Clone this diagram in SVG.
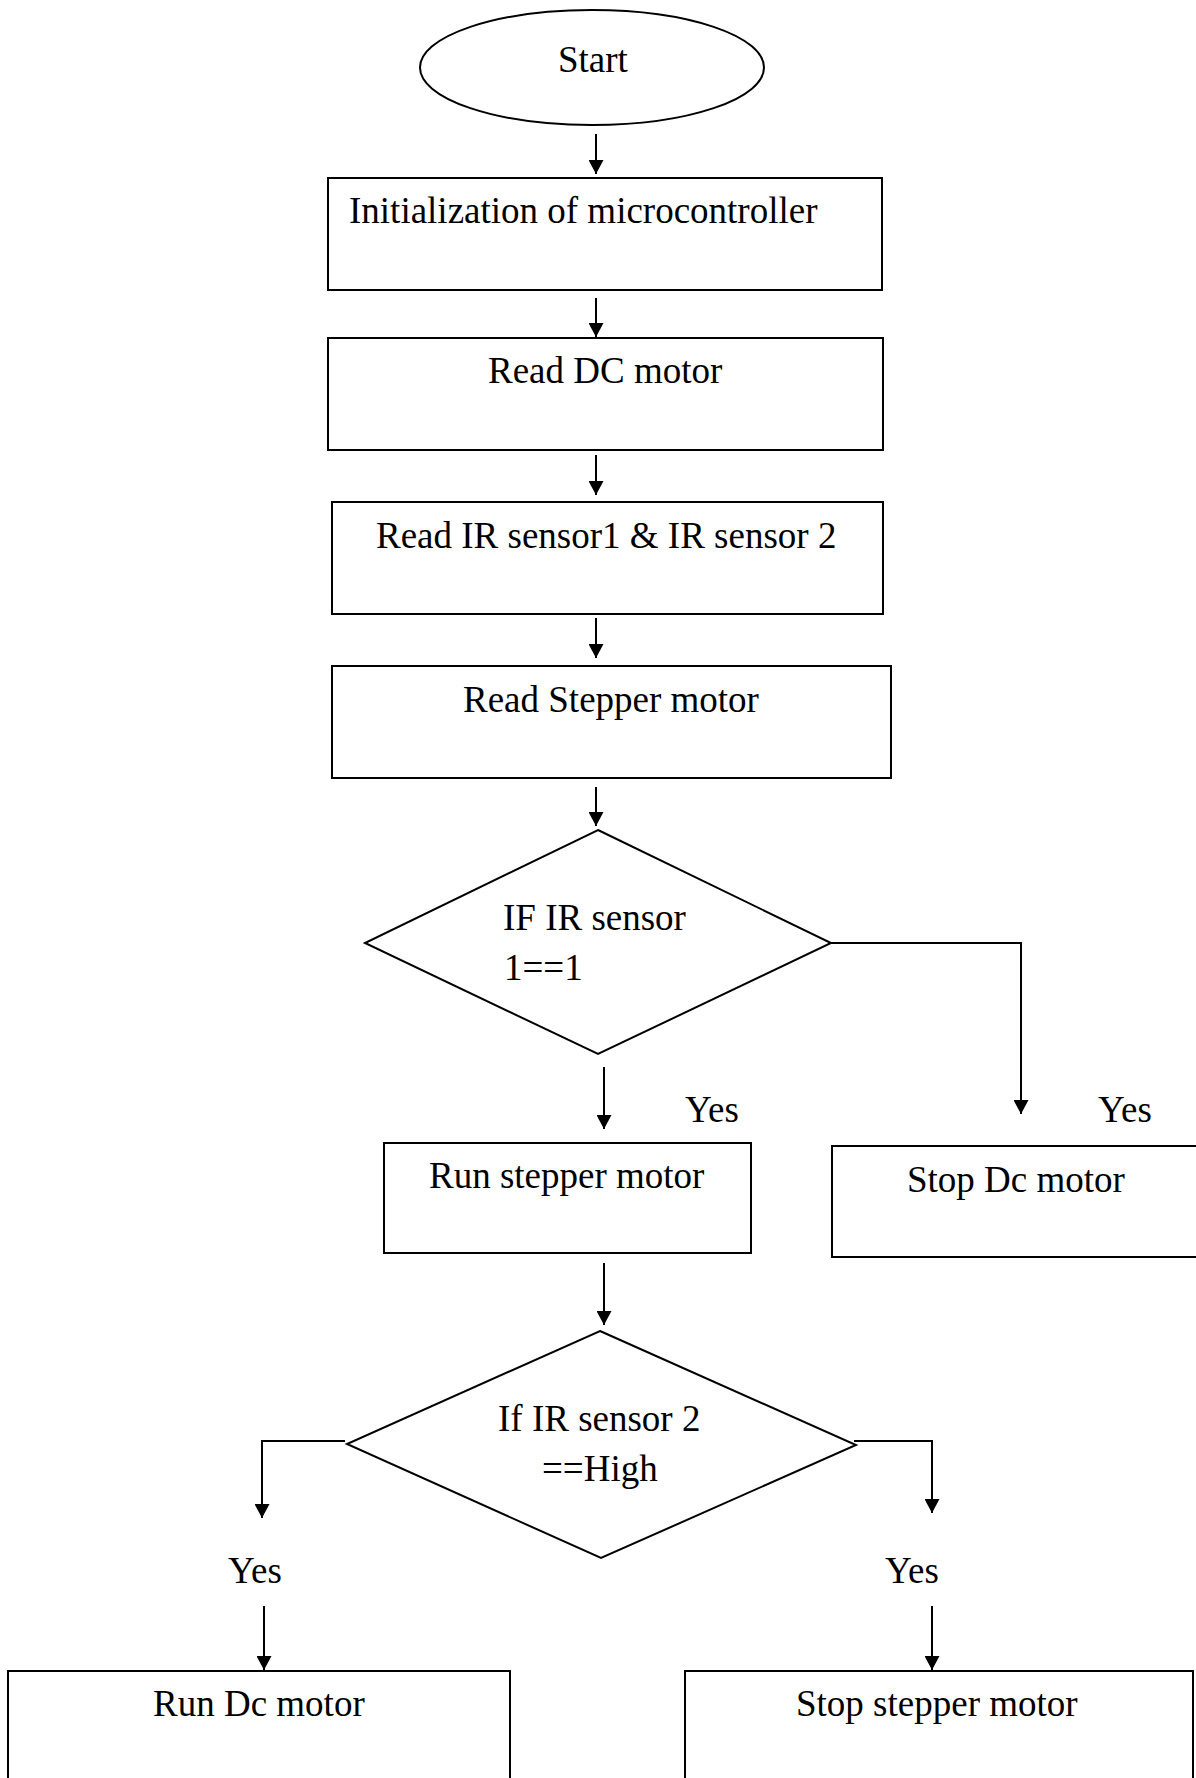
<svg xmlns="http://www.w3.org/2000/svg" width="1196" height="1778" viewBox="0 0 1196 1778">
<style>
.n{fill:#fff;stroke:#000;stroke-width:2}
.t{font-family:"Liberation Serif","Times New Roman",serif;font-size:37px;fill:#000}
.c{fill:none;stroke:#000;stroke-width:2}
</style>
<defs>
<marker id="ah" markerUnits="userSpaceOnUse" markerWidth="14" markerHeight="15" refX="14" refY="7.5" orient="auto">
<path d="M0,0 L14,7.5 L0,15 z" fill="#000"/>
</marker>
</defs>
<rect width="1196" height="1778" fill="#fff"/>
<g id="connectors">
<line class="c" x1="596" y1="134" x2="596" y2="174" marker-end="url(#ah)"/>
<line class="c" x1="596" y1="298" x2="596" y2="337" marker-end="url(#ah)"/>
<line class="c" x1="596" y1="455" x2="596" y2="495" marker-end="url(#ah)"/>
<line class="c" x1="596" y1="618" x2="596" y2="658" marker-end="url(#ah)"/>
<line class="c" x1="596" y1="787" x2="596" y2="826" marker-end="url(#ah)"/>
<line class="c" x1="604" y1="1067" x2="604" y2="1129" marker-end="url(#ah)"/>
<path class="c" d="M831,943 H1021 V1114" marker-end="url(#ah)"/>
<line class="c" x1="604" y1="1263" x2="604" y2="1325" marker-end="url(#ah)"/>
<path class="c" d="M345,1441 H262 V1518" marker-end="url(#ah)"/>
<path class="c" d="M854,1441 H932 V1513" marker-end="url(#ah)"/>
<line class="c" x1="264" y1="1606" x2="264" y2="1670" marker-end="url(#ah)"/>
<line class="c" x1="932" y1="1606" x2="932" y2="1670" marker-end="url(#ah)"/>
<text class="t" x="685" y="1122">Yes</text>
<text class="t" x="1098" y="1122">Yes</text>
<text class="t" x="228" y="1583">Yes</text>
<text class="t" x="885" y="1583">Yes</text>
</g>
<g id="start">
<ellipse class="n" cx="592" cy="67.5" rx="172" ry="57.5"/>
<text class="t" x="558" y="72">Start</text>
</g>
<g id="init">
<rect class="n" x="328" y="178" width="554" height="112"/>
<text class="t" x="349" y="223">Initialization of microcontroller</text>
</g>
<g id="readdc">
<rect class="n" x="328" y="338" width="555" height="112"/>
<text class="t" x="488" y="383">Read DC motor</text>
</g>
<g id="readir">
<rect class="n" x="332" y="502" width="551" height="112"/>
<text class="t" x="376" y="548">Read IR sensor1 &amp; IR sensor 2</text>
</g>
<g id="readstepper">
<rect class="n" x="332" y="666" width="559" height="112"/>
<text class="t" x="463" y="712">Read Stepper motor</text>
</g>
<g id="decision1">
<polygon class="n" points="598,830 831,943 598,1054 365,943"/>
<text class="t" x="503" y="930">IF IR sensor</text>
<text class="t" x="504" y="980">1==1</text>
</g>
<g id="runstepper">
<rect class="n" x="384" y="1143" width="367" height="110"/>
<text class="t" x="429" y="1188">Run stepper motor</text>
</g>
<g id="stopdc">
<rect class="n" x="832" y="1146" width="370" height="111"/>
<text class="t" x="907" y="1192">Stop Dc motor</text>
</g>
<g id="decision2">
<polygon class="n" points="600,1331 856,1445 601,1558 347,1444"/>
<text class="t" x="498" y="1431">If IR sensor 2</text>
<text class="t" x="542" y="1481">==High</text>
</g>
<g id="rundc">
<rect class="n" x="8" y="1671" width="502" height="120"/>
<text class="t" x="153" y="1716">Run Dc motor</text>
</g>
<g id="stopstepper">
<rect class="n" x="685" y="1671" width="508" height="120"/>
<text class="t" x="796" y="1716">Stop stepper motor</text>
</g>
</svg>
